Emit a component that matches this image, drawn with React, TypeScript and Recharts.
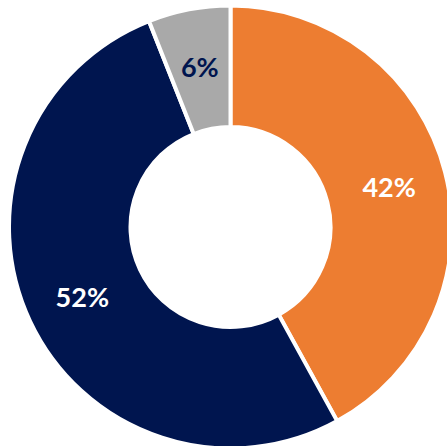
import React from "react";
import { PieChart, Pie, Cell } from "recharts";

const categories = ["A", "B", "C"];
const values = [42, 52, 6];
const labels = ["42%", "52%", "6%"];
const colors = ["#ED7D31", "#00154F", "#A9A9A9"];
const labelColors = ["#FFFFFF", "#FFFFFF", "#00154F"];

const data = categories.map((name, i) => ({ name, value: values[i], label: labels[i] }));

const RADIAN = Math.PI / 180;

const renderLabel = (props: any) => {
  const { cx, cy, midAngle, innerRadius, outerRadius, index } = props;
  const r = (innerRadius + outerRadius) / 2 + 3;
  const x = cx + r * Math.cos(-midAngle * RADIAN);
  const y = cy + r * Math.sin(-midAngle * RADIAN);
  return (
    <text
      x={x}
      y={y}
      fill={labelColors[index]}
      textAnchor="middle"
      dominantBaseline="central"
      fontFamily="Lato, 'Open Sans', sans-serif"
      fontWeight={700}
      fontSize={27}
    >
      {data[index].label}
    </text>
  );
};

export default function App() {
  return (
    <div style={{ position: "absolute", left: 0, top: 0, width: 447, height: 446, overflow: "hidden", background: "#fff" }}>
      <PieChart width={447} height={446} margin={{ top: 0, right: 0, bottom: 0, left: 0 }}>
        <Pie
          data={data}
          dataKey="value"
          cx={230.5}
          cy={227}
          innerRadius={100}
          outerRadius={221.5}
          startAngle={90}
          endAngle={-270}
          stroke="#FFFFFF"
          strokeWidth={4}
          label={renderLabel}
          labelLine={false}
          isAnimationActive={false}
        >
          {data.map((d, i) => (
            <Cell key={d.name} fill={colors[i]} />
          ))}
        </Pie>
      </PieChart>
    </div>
  );
}
